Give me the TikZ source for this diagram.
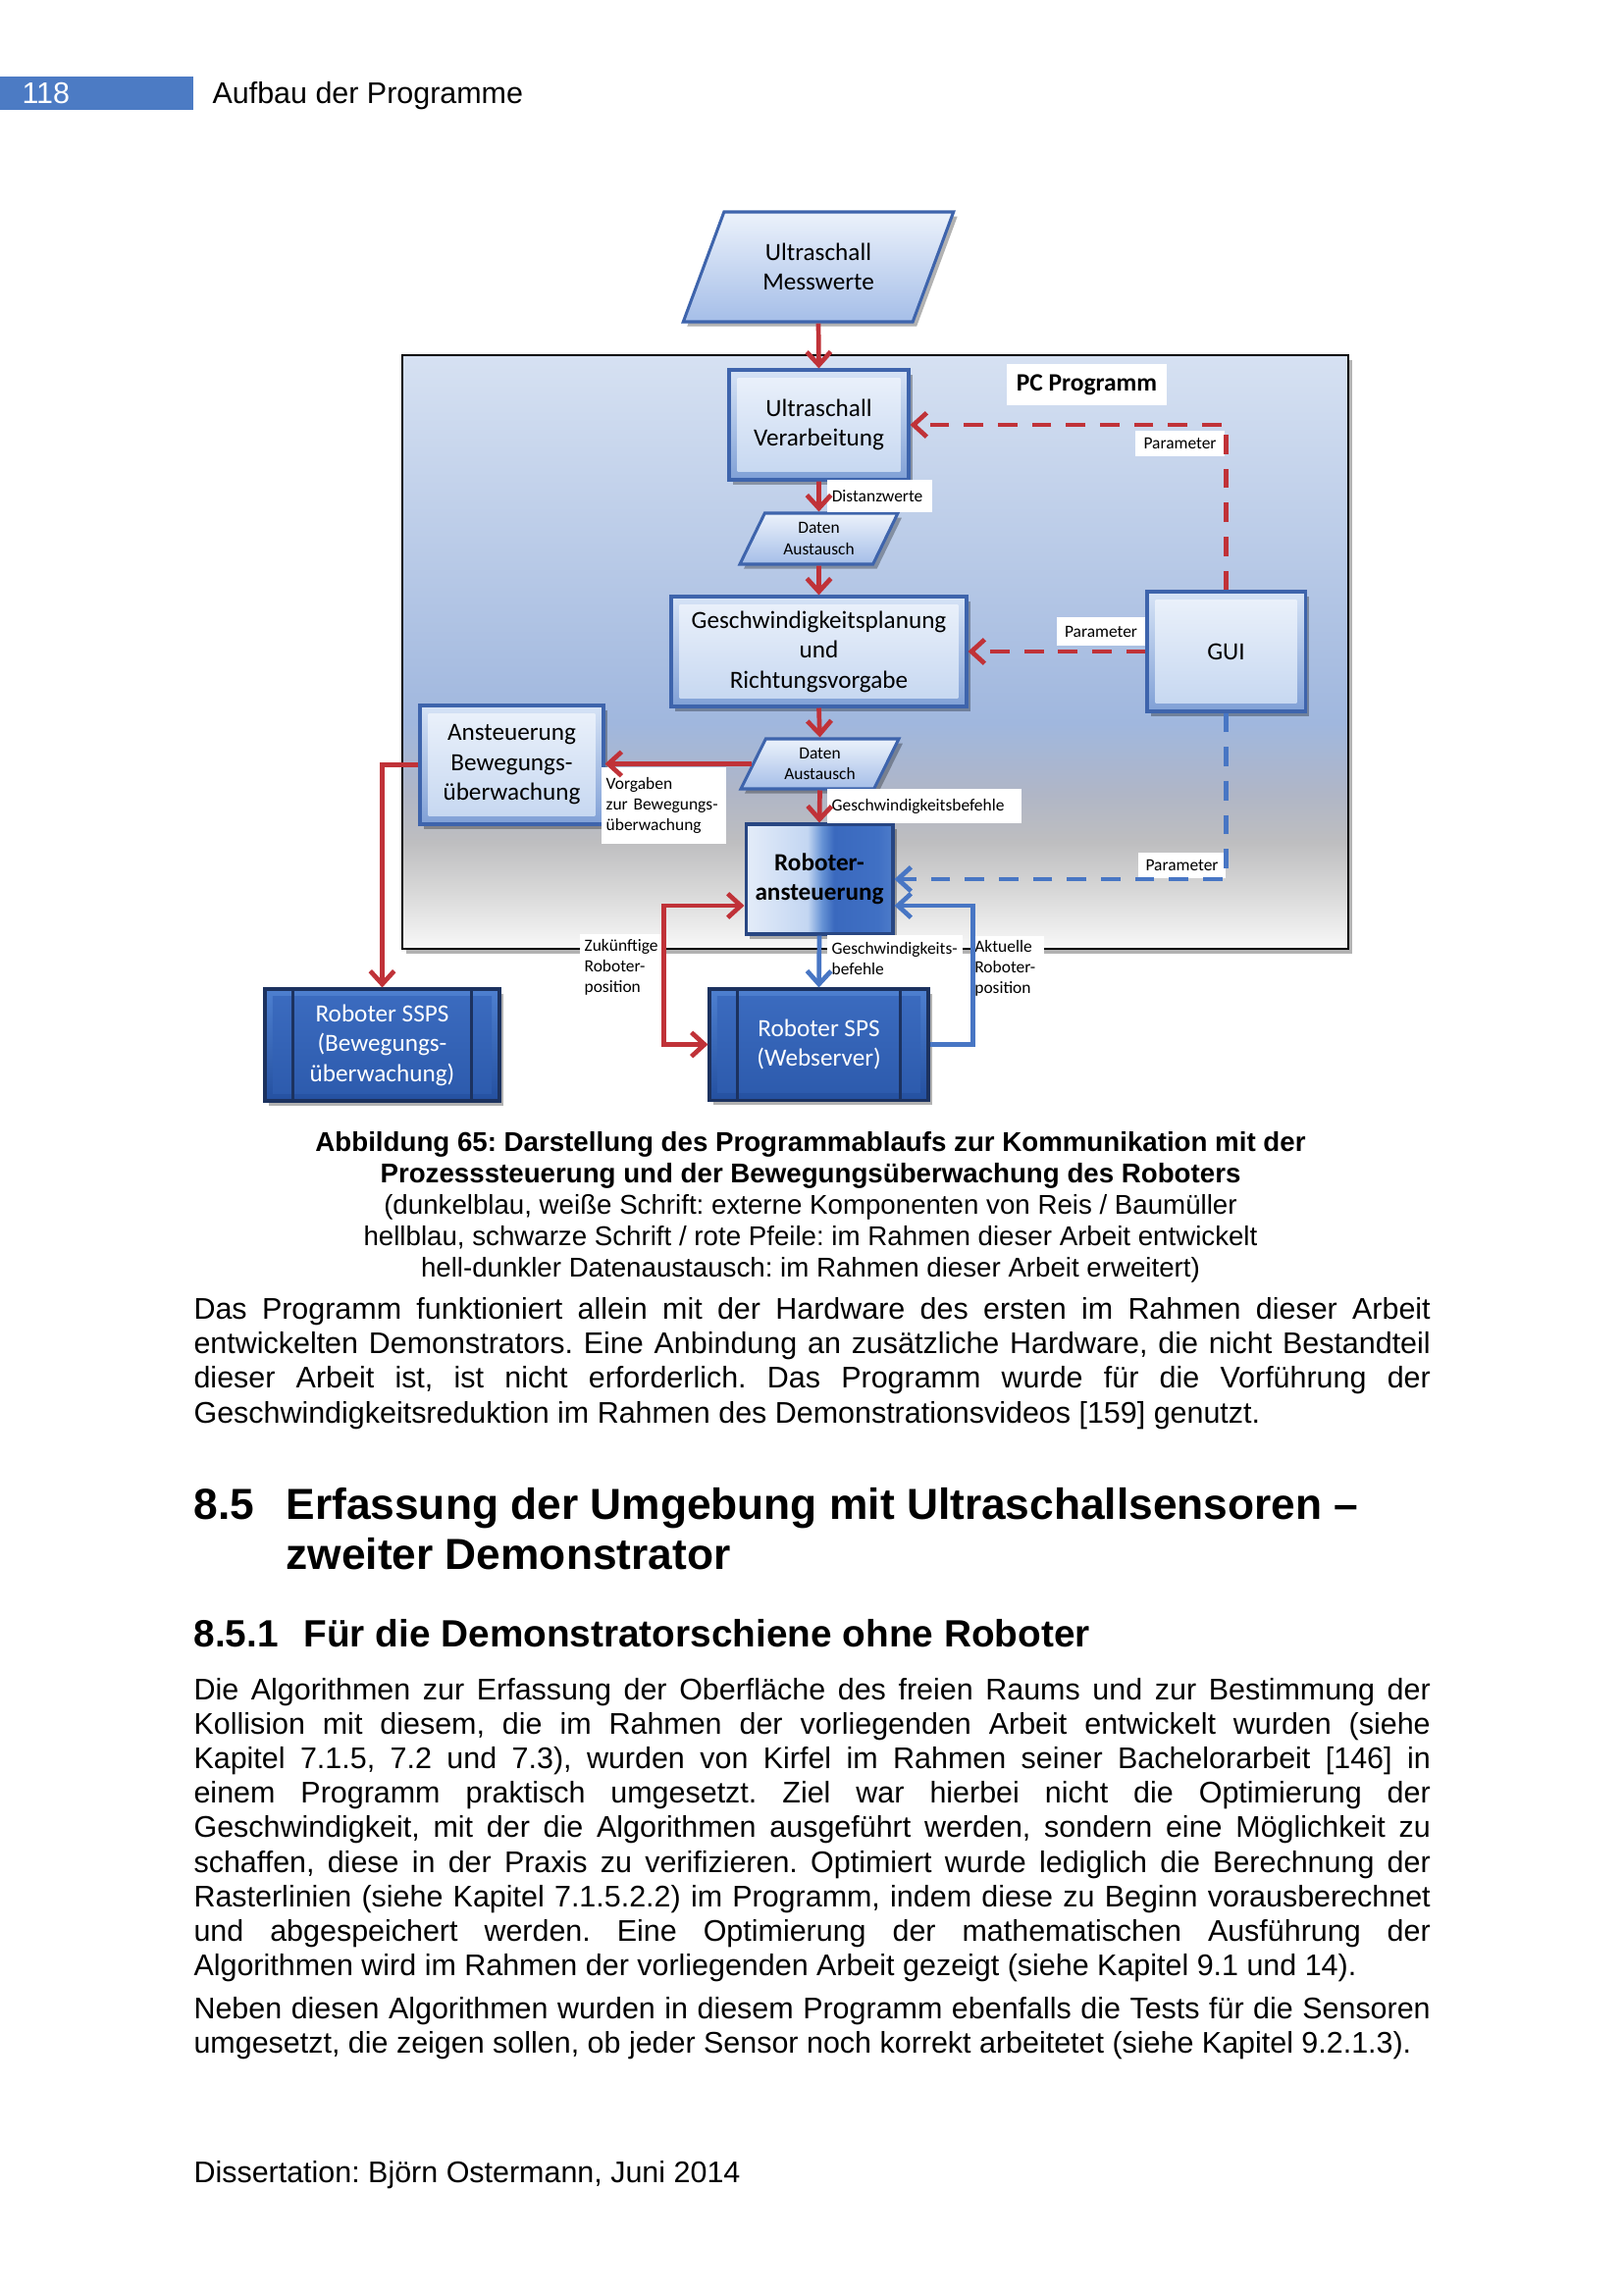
\documentclass[tikz,border=0pt]{standalone}
\usepackage{fontspec}
\setmainfont{Liberation Sans}
\newfontfamily\calfont{Carlito}
\usetikzlibrary{arrows.meta,shapes.geometric,shadows,calc}
\frenchspacing

\definecolor{redarr}{RGB}{192,50,56}
\definecolor{bluearr}{RGB}{72,118,196}
\definecolor{hdrblue}{RGB}{76,123,196}
\definecolor{lbborder}{RGB}{62,100,172}
\definecolor{dkborder}{RGB}{28,50,95}
\definecolor{roboborder}{RGB}{40,70,130}
\definecolor{lbA}{RGB}{214,227,246}
\definecolor{lbB}{RGB}{128,160,214}
\definecolor{lbC}{RGB}{236,242,251}
\definecolor{lbD}{RGB}{196,214,240}
\definecolor{paB}{RGB}{165,190,232}
\definecolor{dkA}{RGB}{78,128,208}
\definecolor{dkB}{RGB}{36,80,160}
\definecolor{dkC}{RGB}{60,108,192}
\definecolor{dkD}{RGB}{44,90,172}
\definecolor{pcA}{RGB}{248,248,248}
\definecolor{pcB}{RGB}{215,215,215}
\definecolor{pcC}{RGB}{190,190,192}
\definecolor{pcD}{RGB}{176,182,198}
\definecolor{pcE}{RGB}{160,183,222}
\definecolor{pcF}{RGB}{214,225,242}
\definecolor{rbA}{RGB}{228,236,249}
\definecolor{rbB}{RGB}{195,214,242}
\definecolor{rbC}{RGB}{100,145,212}
\definecolor{rbD}{RGB}{58,105,190}
\definecolor{rbE}{RGB}{64,112,196}
\definecolor{rbF}{RGB}{78,124,202}

\pgfdeclareverticalshading{pcshade}{100bp}{color(0bp)=(pcA); color(25bp)=(pcA); color(30bp)=(pcB); color(34bp)=(pcC); color(38bp)=(pcD); color(44bp)=(pcE); color(75bp)=(pcF); color(100bp)=(pcF)}
\pgfdeclarehorizontalshading{roboshade}{100bp}{color(0bp)=(rbA); color(25bp)=(rbA); color(46bp)=(rbB); color(51bp)=(rbC); color(55bp)=(rbD); color(70bp)=(rbE); color(75bp)=(rbF); color(100bp)=(rbF)}

\newcommand\jtext[1]{\makebox[160mm][s]{#1}}
\newcommand\smallf{\calfont\fontsize{6.3}{7.7}\selectfont\hyphenpenalty 10000\relax}

\tikzset{
  shad/.style={drop shadow={shadow xshift=0.5mm,shadow yshift=-0.6mm,fill=black,opacity=0.3}},
  boxfont/.style={font=\calfont\fontsize{9.1}{11}\selectfont},
  smallfont/.style={font=\smallf},
  lbox/.style={rectangle,draw=lbborder,line width=1.1pt,top color=lbA,bottom color=lbB,shad,
    path picture={\shade[top color=lbC,bottom color=lbD]
      ([shift={(1.1mm,1.1mm)}]path picture bounding box.south west) rectangle
      ([shift={(-1.1mm,-1.1mm)}]path picture bounding box.north east);},
    inner sep=0pt,align=center,text=black,boxfont},
  dbox/.style={rectangle,draw=dkborder,line width=1.1pt,top color=dkA,bottom color=dkB,shad,
    path picture={\shade[top color=dkC,bottom color=dkD]
      ([shift={(1mm,1mm)}]path picture bounding box.south west) rectangle
      ([shift={(-1mm,-1mm)}]path picture bounding box.north east);
      \draw[dkborder,line width=1.1pt]
      ([xshift=3.6mm]path picture bounding box.south west) -- ([xshift=3.6mm]path picture bounding box.north west)
      ([xshift=-3.6mm]path picture bounding box.south east) -- ([xshift=-3.6mm]path picture bounding box.north east);},
    inner sep=0pt,align=center,text=white,boxfont},
  robobox/.style={rectangle,draw=roboborder,line width=1.1pt,shading=roboshade,shad,inner sep=0pt,
    align=center,text=black,font=\calfont\bfseries\fontsize{9.1}{11}\selectfont},
  para/.style={trapezium,trapezium left angle=63,trapezium right angle=117,trapezium stretches=true,
    draw=lbborder,line width=1.1pt,top color=lbC,bottom color=paB,shad,inner sep=0pt,align=center},
  pcbox/.style={rectangle,draw=black,line width=0.8pt,shading=pcshade,shad,inner sep=0pt},
  lab/.style={fill=white,inner xsep=0.6mm,inner ysep=0pt,align=left,smallfont},
  redline/.style={draw=redarr,line width=1.7pt},
  blueline/.style={draw=bluearr,line width=1.7pt},
  dashpat/.style={dash pattern=on 2.5mm off 1.9mm},
  bodytxt/.style={anchor=base west,inner sep=0pt,font=\fontsize{11}{12.65}\selectfont},
  captxt/.style={anchor=base,inner sep=0pt,font=\fontsize{10}{11.5}\selectfont},
  captbold/.style={anchor=base,inner sep=0pt,font=\fontsize{10}{11.5}\selectfont\bfseries},
  headtxt/.style={anchor=base west,inner sep=0pt,font=\fontsize{16}{18.4}\selectfont\bfseries},
  subtxt/.style={anchor=base west,inner sep=0pt,font=\fontsize{14}{16.1}\selectfont\bfseries},
}

\begin{document}
\begin{tikzpicture}[x=0.12696mm,y=-0.12696mm,>={Straight Barb[length=1.7mm,width=3.1mm]}]
\useasboundingbox (0,0) rectangle (1654,2339);
\fill[white] (0,0) rectangle (1654,2339);

% header
\fill[hdrblue] (0,78) rectangle (197,112);
\node[bodytxt,text=white] (pnum) at (22,106) {118};
\node[bodytxt] (htitle) at (216,106) {Aufbau der Programme};

% ---------- diagram ----------
\node[pcbox,minimum width=122.39mm,minimum height=76.81mm] (pc) at (892,664.5) {};

\node[para,minimum width=35.04mm,minimum height=14.22mm,boxfont] (mess) at (834,272) {Ultraschall\\Messwerte};
\node[lbox,minimum width=23.23mm,minimum height=14.22mm] (verarb) at (834.5,433) {Ultraschall\\Verarbeitung};
\node[para,minimum width=20.44mm,minimum height=6.6mm,smallfont] (d1) at (834.5,549) {Daten\\Austausch};
\node[lbox,minimum width=38.21mm,minimum height=14.22mm] (gesch) at (834.5,664) {Geschwindigkeitsplanung\\und\\Richtungsvorgabe};
\node[lbox,minimum width=20.44mm,minimum height=15.49mm] (gui) at (1249.5,664) {GUI};
\node[lbox,minimum width=23.74mm,minimum height=15.36mm] (anst) at (521.5,779.5) {Ansteuerung\\Bewegungs-\\überwachung};
\node[para,minimum width=20.44mm,minimum height=6.47mm,smallfont] (d2) at (835.5,778.5) {Daten\\Austausch};
\node[robobox,minimum width=19.04mm,minimum height=14.22mm] (robo) at (835,896) {Roboter-\\ansteuerung};
\node[dbox,minimum width=28.31mm,minimum height=14.35mm] (sps) at (834.5,1064.5) {Roboter SPS\\(Webserver)};
\node[dbox,minimum width=30.34mm,minimum height=14.47mm] (ssps) at (389.5,1065) {Roboter SSPS\\(Bewegungs-\\überwachung)};

% labels
\node[lab,align=center,minimum width=20.7mm,minimum height=5.33mm,font=\calfont\bfseries\fontsize{9.2}{11}\selectfont] (pclab) at (1107.5,392) {PC Programm};
\node[lab,align=center,minimum width=11.55mm,minimum height=3.3mm] (par1) at (1202.5,452) {Parameter};
\node[lab,align=center,minimum width=11.43mm,minimum height=3.68mm] (par2) at (1122,643.5) {Parameter};
\node[lab,align=center,minimum width=11.3mm,minimum height=3.3mm] (par3) at (1204.5,882) {Parameter};
\node[lab,text width=12.38mm,minimum height=4.19mm] (dist) at (896.5,505.5) {Distanzwerte};
\node[lab,text width=23.94mm,minimum height=4.44mm] (gbef) at (942,821.5) {Geschwindigkeitsbefehle};
\node[lab,text width=14.92mm,minimum height=9.9mm] (vorg) at (676.5,821) {Vorgaben\\zur Bewegungs-\\überwachung};
\node[lab,inner xsep=0.6mm,text width=9.74mm,minimum height=8.51mm] (zuk) at (634,986) {Zukünftige\\Roboter-\\position};
\node[lab,text width=16.32mm,minimum height=6.1mm] (gbef2) at (912,977) {Geschwindigkeits-\\befehle};
\node[lab,inner xsep=0.3mm,text width=8.67mm,minimum height=8.38mm] (akt) at (1027.5,987) {Aktuelle\\Roboter-\\position};

% connectors
\draw[redline,->] (mess.south) -- (verarb.north);
\draw[redline,->] (verarb.south) -- (d1.north);
\draw[redline,->] (d1.south) -- (gesch.north);
\draw[redline,->] (gesch.south) -- (d2.north);
\draw[redline,->] (d2.west) -- (d2.west -| anst.east);
\draw[redline,->] (anst.west) -| (ssps.north);
\draw[redline,->] (d2.south) -- (robo.north);
\draw[redline,<->] ($(robo.west)+(0,27)$) -| ($(sps.west)+(-45,0)$) -- (sps.west);
\draw[blueline,->] (robo.south) -- (sps.north);
\draw[blueline,->] (sps.east) -- ++(44,0) |- ($(robo.east)+(0,27)$);
\draw[redline,dashpat,->] (gui.north) |- (verarb.east);
\draw[redline,dashpat,->] (gui.west) -- (gesch.east);
\draw[blueline,dashpat,->] (gui.south) |- (robo.east);

% ---------- caption ----------
\node[captbold] (cap1) at (826,1173) {Abbildung 65: Darstellung des Programmablaufs zur Kommunikation mit der};
\node[captbold] (cap2) at (826,1205) {Prozesssteuerung und der Bewegungsüberwachung des Roboters};
\node[captxt] (cap3) at (826,1237) {(dunkelblau, weiße Schrift: externe Komponenten von Reis / Baumüller};
\node[captxt] (cap4) at (826,1269) {hellblau, schwarze Schrift / rote Pfeile: im Rahmen dieser Arbeit entwickelt};
\node[captxt] (cap5) at (826,1301) {hell-dunkler Datenaustausch: im Rahmen dieser Arbeit erweitert)};

% ---------- paragraph 1 ----------
\node[bodytxt] (p1a) at (197,1344.5) {\jtext{Das Programm funktioniert allein mit der Hardware des ersten im Rahmen dieser Arbeit}};
\node[bodytxt] (p1b) at (197,1379.7) {\jtext{entwickelten Demonstrators. Eine Anbindung an zusätzliche Hardware, die nicht Bestandteil}};
\node[bodytxt] (p1c) at (197,1414.9) {\jtext{dieser Arbeit ist, ist nicht erforderlich. Das Programm wurde für die Vorführung der}};
\node[bodytxt] (p1d) at (197,1450.1) {Geschwindigkeitsreduktion im Rahmen des Demonstrationsvideos [159] genutzt.};

% ---------- headings ----------
\node[headtxt] (h1n) at (197,1548) {8.5};
\node[headtxt] (h1a) at (291,1548) {Erfassung der Umgebung mit Ultraschallsensoren –};
\node[headtxt] (h1b) at (291,1599) {zweiter Demonstrator};
\node[subtxt] (s1n) at (197,1678.5) {8.5.1};
\node[subtxt] (s1t) at (309,1678.5) {Für die Demonstratorschiene ohne Roboter};

% ---------- paragraph 2 ----------
\node[bodytxt] (p2a) at (197,1732.0) {\jtext{Die Algorithmen zur Erfassung der Oberfläche des freien Raums und zur Bestimmung der}};
\node[bodytxt] (p2b) at (197,1767.2) {\jtext{Kollision mit diesem, die im Rahmen der vorliegenden Arbeit entwickelt wurden (siehe}};
\node[bodytxt] (p2c) at (197,1802.4) {\jtext{Kapitel 7.1.5, 7.2 und 7.3), wurden von Kirfel im Rahmen seiner Bachelorarbeit [146] in}};
\node[bodytxt] (p2d) at (197,1837.6) {\jtext{einem Programm praktisch umgesetzt. Ziel war hierbei nicht die Optimierung der}};
\node[bodytxt] (p2e) at (197,1872.8) {\jtext{Geschwindigkeit, mit der die Algorithmen ausgeführt werden, sondern eine Möglichkeit zu}};
\node[bodytxt] (p2f) at (197,1908.0) {\jtext{schaffen, diese in der Praxis zu verifizieren. Optimiert wurde lediglich die Berechnung der}};
\node[bodytxt] (p2g) at (197,1943.2) {\jtext{Rasterlinien (siehe Kapitel 7.1.5.2.2) im Programm, indem diese zu Beginn vorausberechnet}};
\node[bodytxt] (p2h) at (197,1978.4) {\jtext{und abgespeichert werden. Eine Optimierung der mathematischen Ausführung der}};
\node[bodytxt] (p2i) at (197,2013.6) {Algorithmen wird im Rahmen der vorliegenden Arbeit gezeigt (siehe Kapitel 9.1 und 14).};

% ---------- paragraph 3 ----------
\node[bodytxt] (p3a) at (197,2057.3) {\jtext{Neben diesen Algorithmen wurden in diesem Programm ebenfalls die Tests für die Sensoren}};
\node[bodytxt] (p3b) at (197,2092.5) {umgesetzt, die zeigen sollen, ob jeder Sensor noch korrekt arbeitetet (siehe Kapitel 9.2.1.3).};

% ---------- footer ----------
\node[bodytxt] (foot) at (197,2224.4) {Dissertation: Björn Ostermann, Juni 2014};
\end{tikzpicture}
\end{document}
